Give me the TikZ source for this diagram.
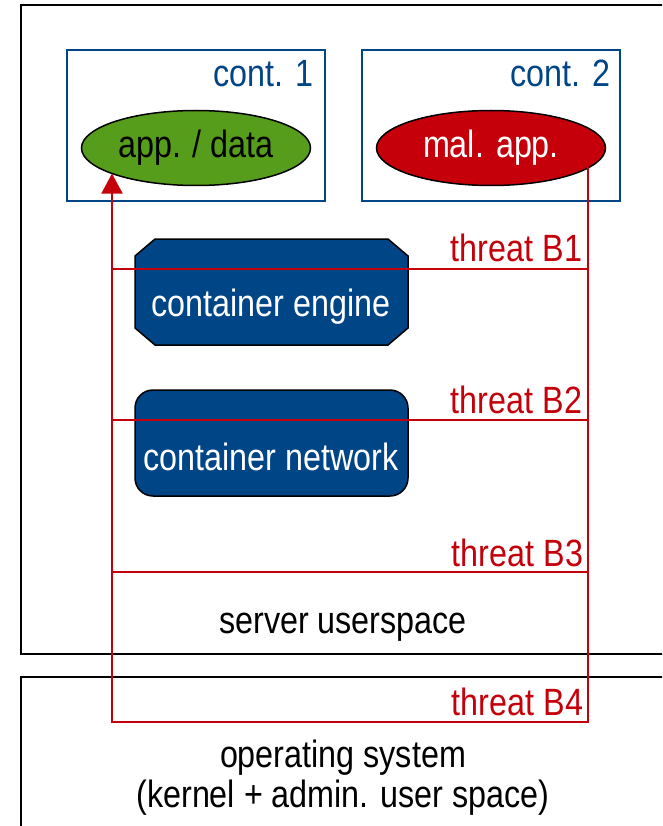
\documentclass[tikz,border=0pt]{standalone}
\usepackage{fontspec}
\setmainfont[FakeStretch=0.85]{Liberation Sans}
\usetikzlibrary{shapes.geometric,arrows.meta}
\definecolor{dblue}{HTML}{004586}
\definecolor{lgreen}{HTML}{579D1C}
\definecolor{dred}{HTML}{C5000B}

\begin{document}
\begin{tikzpicture}[x=1pt,y=-1pt,
  every node/.style={font=\fontsize{38}{40}\selectfont, inner sep=0pt, outer sep=0pt},
  layer/.style={draw=black, line width=2pt},
  contbox/.style={draw=dblue, line width=2pt, minimum width=258pt, minimum height=151pt},
  contlbl/.style={text=dblue, anchor=base east},
  appell/.style={ellipse, draw=black, line width=1.5pt, minimum width=229pt, minimum height=75pt},
  svcarea/.style={minimum width=273pt, minimum height=106pt},
  svcline/.style={fill=dblue, draw=black, line width=1.5pt},
  svclbl/.style={text=white, anchor=base},
  threat/.style={draw=dred, line width=2pt},
  threatlbl/.style={text=dred, anchor=base east},
]
\useasboundingbox (0,0) rectangle (662,826);
\clip (0,0) rectangle (662,826);
\fill[white] (0,0) rectangle (662,826);

% the two layers: server userspace and operating system
\draw[layer] (21,5) rectangle (700,654);
\draw[layer] (21,677) rectangle (700,870);

% containers
\node[contbox] (c1) at (196,125.5) {};
\node[contbox] (c2) at (491,125.5) {};
\node[contlbl] (c1lbl) at (313,87) {cont. 1};
\node[contlbl] (c2lbl) at (610,87) {cont. 2};

% applications
\node[appell, fill=lgreen] (app) at (196,148) {app. / data};
\node[appell, fill=dred, text=white] (mal) at (491,148) {mal. app.};

% container engine: box with cut corners
\node[svcarea] (eng) at (271.5,292) {};
\draw[svcline]
  ([xshift=20pt]eng.north west) -- ([xshift=-20pt]eng.north east)
  -- ([yshift=-17pt]eng.north east) -- ([yshift=17pt]eng.south east)
  -- ([xshift=-20pt]eng.south east) -- ([xshift=20pt]eng.south west)
  -- ([yshift=17pt]eng.south west) -- ([yshift=-17pt]eng.north west) -- cycle;
\node[svclbl] (englbl) at (271,316) {container engine};

% container network: rounded box
\node[svcarea, svcline, rectangle, rounded corners=18pt] (net) at (271.5,443) {};
\node[svclbl] (netlbl) at (271,470) {container network};

% layer names
\node[anchor=base] (usr) at (343,633) {server userspace};
\node[anchor=base] (os1) at (343,767) {operating system};
\node[anchor=base] (os2) at (343,807) {(kernel + admin. user space)};

% attack paths
\coordinate (l1) at (112,268.5);  \coordinate (r1) at (588,268.5);
\coordinate (l2) at (112,420);    \coordinate (r2) at (588,420);
\coordinate (l3) at (112,572);    \coordinate (r3) at (588,572);
\coordinate (l4) at (112,722);    \coordinate (r4) at (588,722);

\draw[threat] (l1) -- (r1);
\draw[threat] (l2) -- (r2);
\draw[threat] (l3) -- (r3);
\draw[threat, -{Triangle[width=21pt,length=20pt]}]
  (r4 |- mal.-11.6) -- (r4) -- (l4) -- (l4 |- app.-163.2);

\node[threatlbl] (t1) at (582,261) {threat B1};
\node[threatlbl] (t2) at (582,413) {threat B2};
\node[threatlbl] (t3) at (583,566) {threat B3};
\node[threatlbl] (t4) at (583,715) {threat B4};
\end{tikzpicture}
\end{document}
